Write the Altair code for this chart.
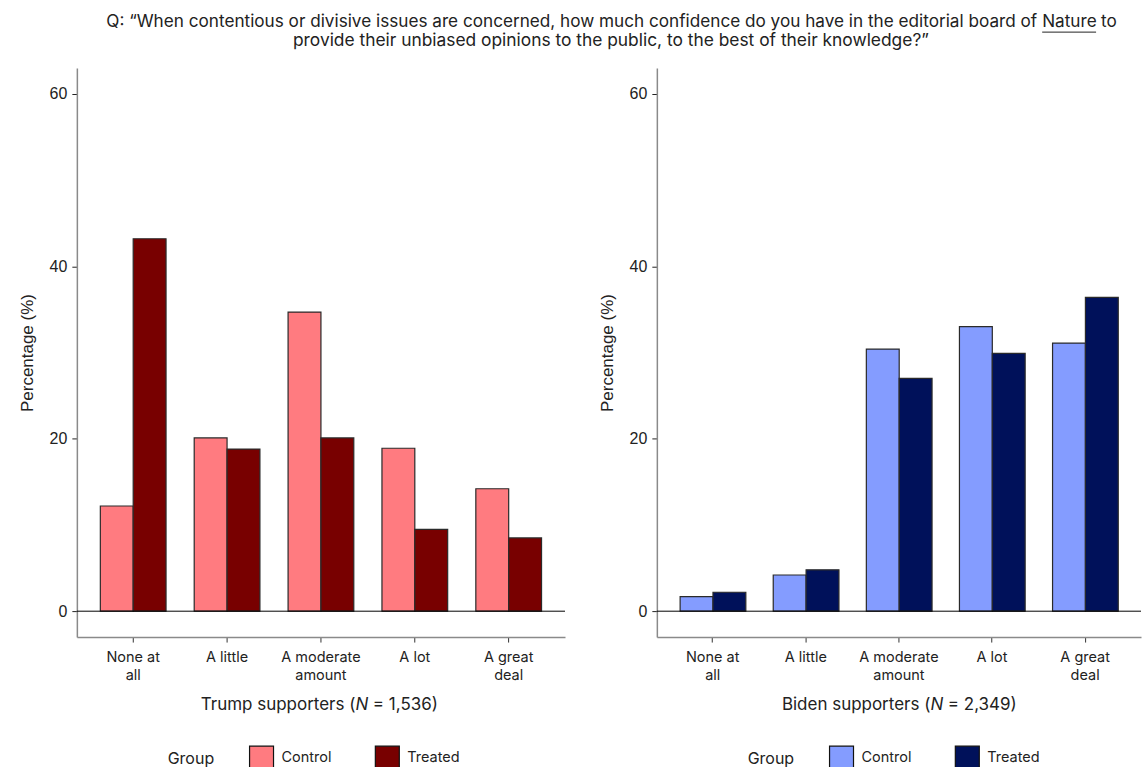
import altair as alt
import pandas as pd

# Response categories and their two-line tick labels
categories = ["None at all", "A little", "A moderate amount", "A lot", "A great deal"]
tick_lines = [["None at", "all"], ["A little"], ["A moderate", "amount"], ["A lot"], ["A great", "deal"]]
groups = ["Control", "Treated"]

# Percentages per group
trump_control = [12.2, 20.1, 34.7, 18.9, 14.2]
trump_treated = [43.2, 18.8, 20.1, 9.5, 8.5]
biden_control = [1.7, 4.2, 30.4, 33.0, 31.1]
biden_treated = [2.2, 4.8, 27.0, 29.9, 36.4]

trump_colors = ["#FF7B80", "#780000"]
biden_colors = ["#849CFF", "#00115A"]

# Question text; the journal name is set apart so it can be underlined
question_head = "Q: \u201cWhen contentious or divisive issues are concerned, how much confidence do you have in the editorial board of"
question_journal = "Nature"
question_tail = "to"
question_line2 = "provide their unbiased opinions to the public, to the best of their knowledge?\u201d"

W_LEFT, W_RIGHT, H = 489, 485, 570
SANS = "Inter"
ARIAL = "Liberation Sans"
INK = "#222222"
one = pd.DataFrame({"k": [0]})


def long_table(control, treated):
    rows = []
    for cat, c, t in zip(categories, control, treated):
        rows.append({"category": cat, "group": "Control", "pct": c})
        rows.append({"category": cat, "group": "Treated", "pct": t})
    return pd.DataFrame(rows)


def label_expr():
    expr = "datum.value"
    for cat, lines in reversed(list(zip(categories, tick_lines))):
        arr = "[" + ",".join("'" + s + "'" for s in lines) + "]"
        expr = f"datum.value == '{cat}' ? {arr} : ({expr})"
    return expr


def text_at(text, x, y, align="center", size=17, style="normal"):
    return alt.Chart(one).mark_text(
        text=text, align=align, baseline="middle", font=SANS, fontSize=size,
        fontStyle=style, color=INK,
    ).encode(x=alt.value(x), y=alt.value(y))


def panel(control, treated, colors, who, n_text, width, n_shift):
    df = long_table(control, treated)
    y_scale = alt.Scale(domain=[-3, 63], nice=False, zero=False)

    bars = alt.Chart(df).mark_bar(stroke="#2a2a2a", strokeWidth=1.2).encode(
        x=alt.X(
            "category:N",
            sort=categories,
            scale=alt.Scale(paddingInner=0.3, paddingOuter=0.25),
            axis=alt.Axis(
                title=None,
                labelExpr=label_expr(),
                labelAngle=0,
                labelFont=SANS,
                labelFontSize=14.5,
                labelColor=INK,
                labelLineHeight=18,
                labelPadding=8.5,
                tickSize=5,
                tickColor="#333333",
                domainColor="#8a8a8a",
                domainWidth=1.5,
                grid=False,
            ),
        ),
        xOffset=alt.XOffset("group:N", sort=groups, scale=alt.Scale(paddingInner=0, paddingOuter=0)),
        y=alt.Y(
            "pct:Q",
            scale=y_scale,
            axis=alt.Axis(
                values=[0, 20, 40, 60],
                title="Percentage (%)",
                titleFont=ARIAL,
                titleFontSize=17,
                titleFontWeight="normal",
                titleColor=INK,
                titlePadding=13,
                labelFont=ARIAL,
                labelFontSize=16,
                labelColor=INK,
                labelPadding=5,
                tickSize=5,
                tickColor="#222222",
                domainColor="#8a8a8a",
                domainWidth=1.5,
                grid=False,
            ),
        ),
        y2=alt.datum(0),
        color=alt.Color(
            "group:N",
            sort=groups,
            scale=alt.Scale(domain=groups, range=colors),
            legend=alt.Legend(
                title="Group",
                orient="none",
                direction="horizontal",
                legendX=91,
                legendY=678,
                titleOrient="left",
                titleFont=SANS,
                titleFontSize=16,
                titleFontWeight="normal",
                titleColor=INK,
                titlePadding=34,
                labelFont=SANS,
                labelFontSize=14.5,
                labelColor=INK,
                labelOffset=7,
                columnPadding=40,
                symbolType="square",
                symbolSize=576,
                symbolStrokeColor="#111111",
                symbolStrokeWidth=1.2,
                symbolOpacity=1,
            ),
        ),
    )

    zero = alt.Chart(pd.DataFrame({"v": [0]})).mark_rule(color="black", strokeWidth=1).encode(
        y=alt.Y("v:Q", scale=y_scale)
    )

    # x-axis caption with an italic N
    nx = width / 2 + n_shift
    cap_y = 638.5
    caption = [
        text_at(who + " (", nx - 6.5, cap_y, align="right"),
        text_at("N", nx, cap_y, style="italic"),
        text_at("= " + n_text + ")", nx + 11, cap_y, align="left"),
    ]
    return [bars, zero] + caption


# Question above both panels, drawn in the left panel's frame
question = [
    text_at(question_head, 962, -46, align="right", size=17.2),
    text_at(question_journal, 967, -46, align="left", size=17.2),
    text_at(question_tail, 1026, -46, align="left", size=17.2),
    text_at(question_line2, 535, -27, size=17.4),
    alt.Chart(one).mark_rule(color=INK, strokeWidth=1, clip=False).encode(
        x=alt.value(967), x2=alt.value(1021), y=alt.value(-36)
    ),
]

left = alt.layer(
    *panel(trump_control, trump_treated, trump_colors, "Trump supporters", "1,536", W_LEFT, 41),
    *question,
).properties(width=W_LEFT, height=H)
right = alt.layer(
    *panel(biden_control, biden_treated, biden_colors, "Biden supporters", "2,349", W_RIGHT, 38)
).properties(width=W_RIGHT, height=H)

chart = (
    alt.hconcat(left, right, spacing=92, bounds="flush")
    .resolve_scale(color="independent", x="independent", y="independent")
    .properties(padding={"left": 18, "top": 12.5, "right": 0, "bottom": 0})
    .configure_view(stroke=None)
)

chart.save("out.html", embed_options={"renderer": "svg", "actions": False})
